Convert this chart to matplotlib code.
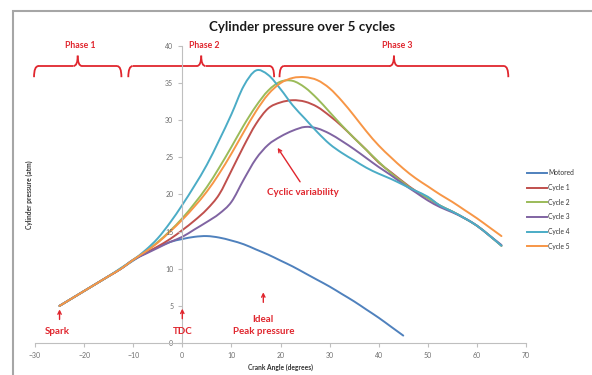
import matplotlib
matplotlib.use("Agg")
import matplotlib.pyplot as plt
from matplotlib.path import Path
from matplotlib.patches import PathPatch, Rectangle

plt.rcParams['font.family'] = ['Lato', 'DejaVu Sans']

angles = [-25, -22.5, -20, -17.5, -15, -12.5, -10, -7.5, -5, -2.5, 0, 2.5, 5, 7.5,
          10, 12.5, 15, 17.5, 20, 22.5, 25, 27.5, 30, 32.5, 35, 37.5, 40, 42.5,
          45, 47.5, 50, 52.5, 55, 57.5, 60, 62.5, 65]
start = [5.0, 6.0, 7.0, 8.0, 9.0, 10.0]

motored = start + [11.1, 12.1, 12.9, 13.6, 14.0, 14.3, 14.4, 14.2, 13.8, 13.3, 12.6,
                   11.9, 11.1, 10.3, 9.4, 8.5, 7.6, 6.6, 5.6, 4.5, 3.4, 2.2, 1.0]
cycle1 = start + [11.2, 12.1, 13.0, 14.0, 15.2, 16.5, 18.0, 20.0, 23.2, 26.5, 29.5,
                  31.6, 32.4, 32.7, 32.5, 31.8, 30.6, 29.2, 27.6, 26.0, 24.3, 23.0,
                  21.7, 20.5, 19.6, 18.5, 17.7, 16.8, 15.8, 14.5, 13.1]
cycle2 = start + [11.2, 12.3, 13.6, 15.1, 16.8, 18.8, 21.0, 23.6, 26.4, 29.3, 31.9,
                  34.0, 35.2, 35.3, 34.4, 32.9, 31.1, 29.3, 27.6, 26.0, 24.4, 22.9,
                  21.6, 20.4, 19.5, 18.5, 17.7, 16.8, 15.8, 14.5, 13.1]
cycle3 = start + [11.2, 12.0, 12.8, 13.6, 14.3, 15.3, 16.3, 17.4, 19.0, 22.0, 24.8,
                  26.7, 27.8, 28.6, 29.1, 28.9, 28.2, 27.2, 26.1, 24.9, 23.7, 22.6,
                  21.4, 20.3, 19.2, 18.3, 17.6, 16.8, 15.8, 14.5, 13.2]
cycle4 = start[:5] + [10.1, 11.2, 12.5, 14.1, 16.2, 18.6, 21.2, 24.0, 27.3, 30.8, 34.6,
                      36.7, 36.1, 34.2, 32.0, 30.2, 28.4, 26.8, 25.6, 24.6, 23.6,
                      22.8, 22.1, 21.3, 20.5, 19.7, 18.5, 17.7, 16.8, 15.8, 14.5, 13.1]
cycle5 = start + [11.2, 12.3, 13.5, 15.0, 16.6, 18.4, 20.4, 22.8, 25.5, 28.4, 31.2,
                  33.5, 35.0, 35.7, 35.8, 35.4, 34.3, 32.6, 30.6, 28.5, 26.6, 25.0,
                  23.5, 22.2, 21.1, 20.0, 19.0, 17.9, 16.8, 15.6, 14.4]

series = [("Motored", motored, "#4F81BD"), ("Cycle 1", cycle1, "#C0504D"),
          ("Cycle 2", cycle2, "#9BBB59"), ("Cycle 3", cycle3, "#8064A2"),
          ("Cycle 4", cycle4, "#4BACC6"), ("Cycle 5", cycle5, "#F79646")]

phases = [("Phase 1", -30.2, -12.4), ("Phase 2", -11.0, 18.7), ("Phase 3", 19.8, 66.4)]

RED = "#E0262E"
GREY = "#BFBFBF"


def smooth_path(xs, ys):
    # excel style "smoothed line": bezier segments through the data points
    pts = list(zip(xs, ys))
    verts = [pts[0]]
    codes = [Path.MOVETO]
    for i in range(len(pts) - 1):
        p0 = pts[i - 1] if i > 0 else pts[i]
        p1, p2 = pts[i], pts[i + 1]
        p3 = pts[i + 2] if i + 2 < len(pts) else p2
        c1 = (p1[0] + (p2[0] - p0[0]) / 6, p1[1] + (p2[1] - p0[1]) / 6)
        c2 = (p2[0] - (p3[0] - p1[0]) / 6, p2[1] - (p3[1] - p1[1]) / 6)
        verts += [c1, c2, p2]
        codes += [Path.CURVE4] * 3
    return Path(verts, codes)


fig = plt.figure(figsize=(5.92, 3.75), dpi=100)
ax = fig.add_axes([35/592, 32/375, 491/592, 297/375])

for name, vals, col in series:
    ax.add_patch(PathPatch(smooth_path(angles[:len(vals)], vals), fill=False,
                           ec=col, lw=1.4, capstyle='round'))
    ax.plot([], [], color=col, lw=1.4, label=name)

ax.set_xlim(-30, 70)
ax.set_ylim(0, 40)
ax.set_xticks(range(-30, 71, 10))
ax.set_yticks(range(0, 41, 5))
ax.spines['left'].set_position(('data', 0))
ax.spines['right'].set_visible(False)
ax.spines['top'].set_visible(False)
for s in ('left', 'bottom'):
    ax.spines[s].set_color(GREY)
    ax.spines[s].set_linewidth(0.8)
ax.tick_params(labelsize=5, colors=GREY, labelcolor='#6E6E6E', length=3, width=0.8)

fig.text(29/592, 1 - 195/375, "Cylinder pressure (atm)", rotation=90, fontsize=4.8,
         fontweight='bold', ha='center', va='center', color='#333333')
fig.text(280/592, 1 - 367/375, "Crank Angle (degrees)", fontsize=4.8,
         fontweight='bold', ha='center', va='center', color='#333333')
fig.text(302/592, 1 - 27/375, "Cylinder pressure over 5 cycles", fontsize=9.6,
         fontweight='bold', ha='center', va='center', color='#1A1A1A')


def brace(x0, x1, y=37.3, drop=1.5, tip=1.4, dx=0.9):
    xc = (x0 + x1) / 2
    C3 = Path.CURVE3
    parts = [
        ([(x0, y - drop), (x0, y), (x0 + dx, y)], [Path.MOVETO, C3, C3]),
        ([(x1, y - drop), (x1, y), (x1 - dx, y)], [Path.MOVETO, C3, C3]),
        ([(x0 + dx, y), (xc - dx, y)], [Path.MOVETO, Path.LINETO]),
        ([(x1 - dx, y), (xc + dx, y)], [Path.MOVETO, Path.LINETO]),
        ([(xc - dx, y), (xc, y), (xc, y + tip)], [Path.MOVETO, C3, C3]),
        ([(xc + dx, y), (xc, y), (xc, y + tip)], [Path.MOVETO, C3, C3]),
    ]
    for verts, codes in parts:
        ax.add_patch(PathPatch(Path(verts, codes), fill=False, ec=RED, lw=1.3,
                               clip_on=False))
    return xc


for label, x0, x1 in phases:
    xc = brace(x0, x1)
    ax.text(xc + 0.6, 40.0, label, color=RED, fontsize=6.3, fontweight='bold',
            ha='center', va='center', clip_on=False)

arrow = dict(arrowstyle='->', color=RED, lw=1.0, mutation_scale=6)
note = dict(color=RED, fontsize=7, fontweight='bold', ha='center', va='center')
ax.annotate("", xy=(-25, 4.9), xytext=(-25, 2.8), arrowprops=arrow)
ax.text(-25.5, 1.5, "Spark", **note)
ax.annotate("", xy=(0, 5.0), xytext=(0, 2.9), arrowprops=arrow)
ax.text(0, 1.5, "TDC", **note)
ax.annotate("", xy=(16.5, 7.2), xytext=(16.5, 5.1), arrowprops=arrow)
ax.text(16.5, 3.2, "Ideal", **note)
ax.text(16.5, 1.5, "Peak pressure", **note)
ax.annotate("", xy=(19.1, 26.6), xytext=(24.3, 21.4), arrowprops=arrow)
ax.text(24.6, 20.3, "Cyclic variability", **note)

ax.legend(loc='upper left', bbox_to_anchor=(524/592, 1 - 166/375),
          bbox_transform=fig.transFigure, frameon=False, fontsize=4.8,
          handlelength=3.0, handletextpad=0.1, labelspacing=1.15, borderpad=0,
          labelcolor='#333333')

fig.patches.append(Rectangle((13/592, -0.1), 1.2, 1 - 11/375 + 0.1,
                             transform=fig.transFigure, fill=False,
                             ec='#A6A6A6', lw=1.5))

fig.savefig("out.png", dpi=100)
